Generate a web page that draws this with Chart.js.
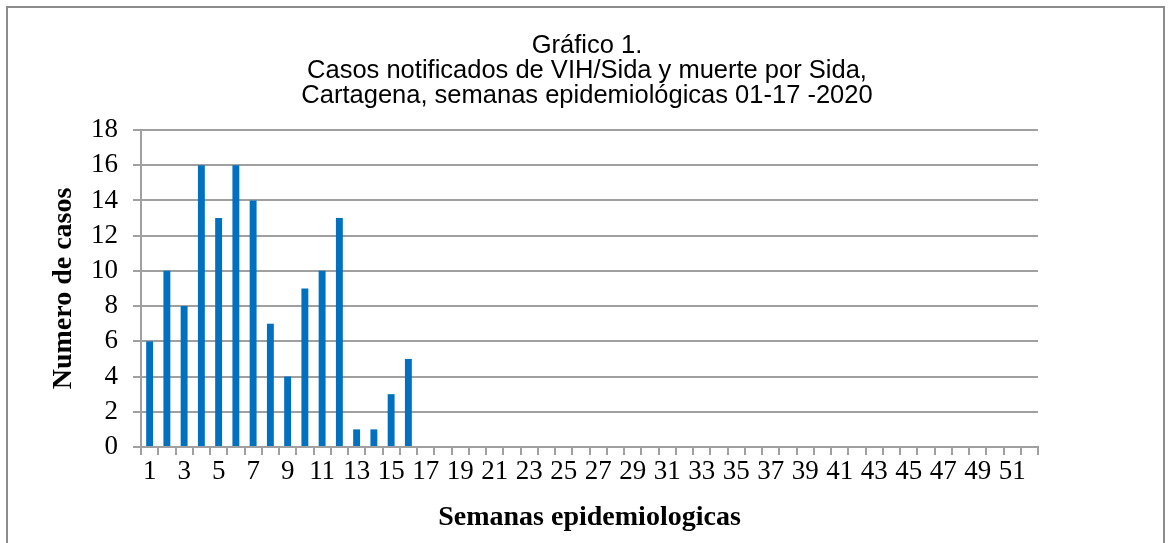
<!DOCTYPE html>
<html>
<head>
<meta charset="utf-8">
<script src="https://cdn.jsdelivr.net/npm/chart.js@4"></script>
<style>
html, body { margin: 0; padding: 0; background: #fff; }
#wrap { position: relative; width: 1174px; height: 543px; }
</style>
</head>
<body>
<div id="wrap"><canvas id="casosChart"></canvas></div>
<script>
// -----------------------------
// Data
// -----------------------------
const semanas = [];
for (let i = 1; i <= 52; i++) semanas.push(String(i));

const casos = [6, 10, 8, 16, 13, 16, 14, 7, 4, 9, 10, 13, 1, 1, 3, 5,
  0, 0, 0, 0, 0, 0, 0, 0, 0, 0, 0, 0, 0, 0, 0, 0, 0, 0,
  0, 0, 0, 0, 0, 0, 0, 0, 0, 0, 0, 0, 0, 0, 0, 0, 0, 0];

const yTicks = [0, 2, 4, 6, 8, 10, 12, 14, 16, 18];

const titulo = [
  "Gráfico 1.",
  "Casos notificados de VIH/Sida y muerte por Sida,",
  "Cartagena, semanas epidemiológicas 01-17 -2020"
];

// frame around the chart
const framePlugin = {
  id: "frame",
  beforeDraw(chart) {
    const ctx = chart.ctx;
    ctx.save();
    ctx.fillStyle = "#fff";
    ctx.fillRect(0, 0, chart.width, chart.height);
    ctx.strokeStyle = "#8c8c8c";
    ctx.lineWidth = 2;
    ctx.strokeRect(7, 7, 1157, 600);
    ctx.restore();
  }
};

new Chart(document.getElementById("casosChart"), {
  type: "bar",
  data: {
    labels: semanas,
    datasets: [{
      label: "Casos",
      data: casos,
      backgroundColor: "#0070c0",
      barPercentage: 0.4,
      categoryPercentage: 1
    }]
  },
  plugins: [framePlugin],
  options: {
    responsive: true,
    maintainAspectRatio: false,
    animation: false,
    layout: {
      padding: 0
    },
    plugins: {
      legend: { display: false },
      tooltip: { enabled: false },
      title: {
        display: true,
        text: titulo,
        color: "#000",
        font: { family: "Liberation Sans", size: 25.5, weight: "normal", lineHeight: 0.98 },
        padding: { top: 33, bottom: 22 }
      }
    },
    scales: {
      x: {
        afterFit: function (scale) { scale.height = 96; },
        grid: {
          display: true,
          offset: true,
          drawOnChartArea: false,
          drawTicks: true,
          tickLength: 8,
          color: "#a0a0a0",
          lineWidth: 2
        },
        border: { display: true, color: "#a0a0a0", width: 2 },
        ticks: {
          autoSkip: false,
          maxRotation: 0,
          padding: 1,
          color: "#000",
          font: { family: "Liberation Serif", size: 27 },
          callback: function (val, i) {
            return i % 2 === 0 ? semanas[i] : "";
          }
        },
        title: {
          display: true,
          text: "Semanas epidemiologicas",
          color: "#000",
          font: { family: "Liberation Serif", size: 28, weight: "bold", lineHeight: 1.2 },
          padding: { top: 0, bottom: 8 }
        }
      },
      y: {
        min: 0,
        max: 18,
        afterFit: function (scale) { scale.width = 141; },
        afterBuildTicks: function (scale) {
          scale.ticks = yTicks.map(v => ({ value: v }));
        },
        grid: {
          color: "#a0a0a0",
          lineWidth: 2,
          tickLength: 8
        },
        border: { display: true, color: "#a0a0a0", width: 2 },
        ticks: {
          autoSkip: false,
          padding: 15,
          color: "#000",
          font: { family: "Liberation Serif", size: 27 }
        },
        title: {
          display: true,
          text: "Numero de casos",
          color: "#000",
          font: { family: "Liberation Serif", size: 28, weight: "bold", lineHeight: 1.2 },
          padding: { top: 47, bottom: 0 }
        }
      },
      // empty right side, keeps the title centred on the frame
      derecha: {
        type: "linear",
        position: "right",
        min: 0,
        max: 18,
        afterFit: function (scale) { scale.width = 136; },
        grid: { drawOnChartArea: false, display: false },
        border: { display: false },
        ticks: { display: false }
      }
    }
  }
});
</script>
</body>
</html>
